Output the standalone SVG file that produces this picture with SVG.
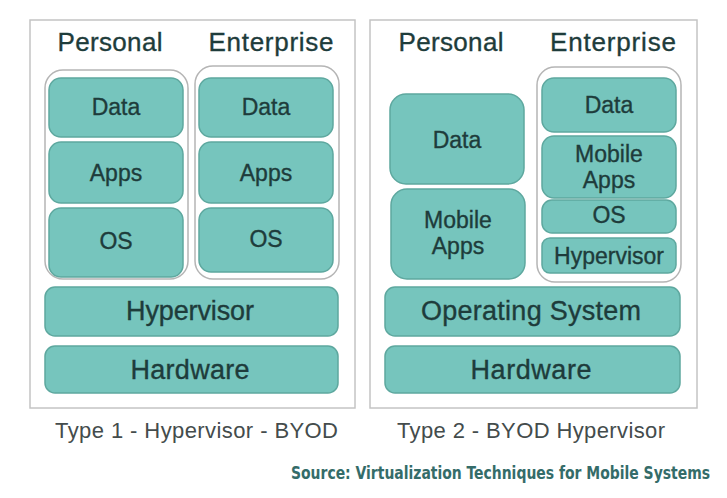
<svg xmlns="http://www.w3.org/2000/svg" width="727" height="498" viewBox="0 0 727 498">
<style>
.frame{fill:#fff;stroke:#c4c4c4;stroke-width:1.5}
.cont{fill:#fff;stroke:#b5b5b5;stroke-width:1.5}
.box{fill:#76c5bd;stroke:#5ea89f;stroke-width:1.5}
.t{font-family:"Liberation Sans",Arial,sans-serif;fill:#1e3c3b;stroke:#1e3c3b;stroke-width:0.35;text-anchor:middle}
.hd{font-size:26px}
.in{font-size:23px}
.bar{font-size:27px}
.cap{font-family:"Liberation Sans",Arial,sans-serif;font-size:22px;fill:#444c4c}
.src{font-family:"DejaVu Sans Condensed","Open Sans",sans-serif;font-weight:bold;font-size:17.5px;fill:#346c69;text-anchor:end}
</style>
<rect width="727" height="498" fill="#fff"/>
<g id="type1">
  <rect class="frame" x="30" y="20" width="325" height="388"/>
  <text class="t hd" x="110" y="51" textLength="105" lengthAdjust="spacing">Personal</text>
  <text class="t hd" x="271" y="51" textLength="125" lengthAdjust="spacing">Enterprise</text>
  <g id="t1-personal">
    <rect class="cont" x="45" y="70" width="143" height="209" rx="18"/>
    <g id="t1-p-data"><rect class="box" x="49" y="78" width="134" height="59" rx="12"/><text class="t in" x="116" y="115">Data</text></g>
    <g id="t1-p-apps"><rect class="box" x="49" y="142" width="134" height="61" rx="12"/><text class="t in" x="116" y="181">Apps</text></g>
    <g id="t1-p-os"><rect class="box" x="49" y="208" width="134" height="69" rx="12"/><text class="t in" x="116" y="249">OS</text></g>
  </g>
  <g id="t1-enterprise">
    <rect class="cont" x="195" y="66" width="144" height="213" rx="18"/>
    <g id="t1-e-data"><rect class="box" x="199" y="78" width="134" height="59" rx="12"/><text class="t in" x="266" y="115">Data</text></g>
    <g id="t1-e-apps"><rect class="box" x="199" y="142" width="134" height="61" rx="12"/><text class="t in" x="266" y="181">Apps</text></g>
    <g id="t1-e-os"><rect class="box" x="199" y="208" width="134" height="64" rx="12"/><text class="t in" x="266" y="247">OS</text></g>
  </g>
  <g id="t1-hypervisor"><rect class="box" x="45" y="287" width="293" height="49" rx="10"/><text class="t bar" x="190" y="320" textLength="128" lengthAdjust="spacing">Hypervisor</text></g>
  <g id="t1-hardware"><rect class="box" x="45" y="346" width="293" height="47" rx="10"/><text class="t bar" x="190" y="379" textLength="119" lengthAdjust="spacing">Hardware</text></g>
  <text class="cap" x="55" y="438" textLength="283" lengthAdjust="spacing">Type 1 - Hypervisor - BYOD</text>
</g>
<g id="type2">
  <rect class="frame" x="370" y="20" width="327" height="388"/>
  <text class="t hd" x="451" y="51" textLength="105" lengthAdjust="spacing">Personal</text>
  <text class="t hd" x="613" y="51" textLength="126" lengthAdjust="spacing">Enterprise</text>
  <g id="t2-p-data"><rect class="box" x="390" y="94" width="134" height="90" rx="16"/><text class="t in" x="457" y="148">Data</text></g>
  <g id="t2-p-mobile"><rect class="box" x="391" y="189" width="134" height="90" rx="16"/><text class="t in" x="458" y="228">Mobile</text><text class="t in" x="458" y="254">Apps</text></g>
  <g id="t2-enterprise">
    <rect class="cont" x="537" y="67" width="144" height="215" rx="18"/>
    <g id="t2-e-data"><rect class="box" x="542" y="78" width="134" height="54" rx="12"/><text class="t in" x="609" y="113">Data</text></g>
    <g id="t2-e-mobile"><rect class="box" x="542" y="136" width="134" height="62" rx="12"/><text class="t in" x="609" y="162">Mobile</text><text class="t in" x="609" y="188">Apps</text></g>
    <g id="t2-e-os"><rect class="box" x="542" y="200" width="134" height="33" rx="10"/><text class="t in" x="609" y="223">OS</text></g>
    <g id="t2-e-hyp"><rect class="box" x="542" y="238" width="134" height="35" rx="8"/><text class="t in" x="609" y="264">Hypervisor</text></g>
  </g>
  <g id="t2-os"><rect class="box" x="385" y="287" width="295" height="49" rx="10"/><text class="t bar" x="531" y="320" textLength="220" lengthAdjust="spacing">Operating System</text></g>
  <g id="t2-hardware"><rect class="box" x="385" y="346" width="295" height="47" rx="10"/><text class="t bar" x="531" y="379" textLength="121" lengthAdjust="spacing">Hardware</text></g>
  <text class="cap" x="397" y="438" textLength="268" lengthAdjust="spacing">Type 2 - BYOD Hypervisor</text>
</g>
<g id="connectors"/>
<text class="src" transform="translate(710,479) scale(0.85,1)" x="0" y="0" textLength="493" lengthAdjust="spacingAndGlyphs">Source: Virtualization Techniques for Mobile Systems</text>
</svg>
